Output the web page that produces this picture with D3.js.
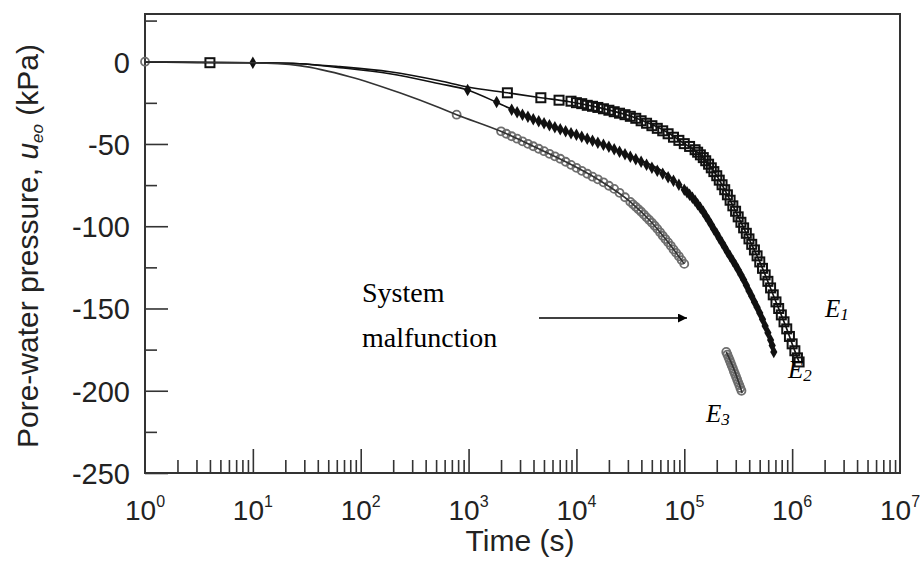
<!DOCTYPE html>
<html lang="en">
<head>
<meta charset="UTF-8">
<title>Pore-water pressure vs time</title>
<script src="https://cdn.jsdelivr.net/npm/d3@7"></script>
<style>
  html, body { margin: 0; padding: 0; background: #fff; }
  svg { display: block; }
  .axis text { font-family: 'Liberation Sans', Arial, sans-serif; fill: #222; }
  .axis line { stroke: #333; stroke-width: 1.6; }
  .axis path { display: none; }
  .note { font-family: 'Liberation Serif', 'Times New Roman', serif; fill: #000; }
</style>
</head>
<body>
<script>
  // tick values
  const yMajorTicks = [-250, -200, -150, -100, -50, 0];
  const yMinorTicks = [-225, -175, -125, -75, -25, 25];
  const xExponents = [0, 1, 2, 3, 4, 5, 6, 7];
  const minorMantissas = [2, 3, 4, 5, 6, 7, 8, 9];

  // [time (s), pore-water pressure (kPa)]
  const e1Line = [[1, 0], [4, -0.6], [10, -0.6], [27, -1.2], [64, -3], [186, -6.1], [539, -11.6], [958, -15.2],
    [2290, -18.9], [4680, -21.9], [8620, -24.3], [16300, -27.9], [33000, -33.5], [68100, -42.6],
    [100000, -49.8], [141000, -56.6], [200000, -69.3], [251000, -80.9], [355000, -101], [501000, -121.7],
    [708000, -146], [891000, -162.4], [1000000, -171.5], [1160000, -182.5]];
  const e1Marks = [[4, -0.6], [2290, -18.9], [4680, -21.9], [6900, -23.4], [8910, -24.0],
    [10000, -24.9], [11200, -25.5], [12600, -26.5], [14100, -27.1], [15800, -27.8], [17800, -28.6],
    [20000, -29.5], [22400, -30.4], [25100, -31.3], [28200, -32.2], [31600, -33.2], [35500, -34.4],
    [39800, -35.9], [44700, -37.4], [50100, -38.9], [56200, -40.5], [63100, -42.0], [70800, -43.8],
    [79400, -45.9], [89100, -47.8], [100000, -49.8], [112000, -51.5], [126000, -53.5], [141000, -56.6],
    [158000, -60.2], [178000, -64.5], [200000, -69.3], [224000, -74.8], [251000, -80.9], [282000, -87.6],
    [316000, -94.3], [355000, -101], [398000, -107.7], [447000, -114.4], [501000, -121.7], [562000, -129.6],
    [631000, -137.5], [708000, -146], [794000, -153.9], [891000, -162.4], [1000000, -171.5],
    [1120000, -180], [1160000, -182.5],
    [133000, -55.0], [150000, -58.3], [168000, -62.3], [188000, -66.8], [211000, -72.0], [237000, -77.8],
    [266000, -84.2], [299000, -90.9], [335000, -97.6], [376000, -104.3], [422000, -111.0], [473000, -118.0],
    [531000, -125.6], [596000, -133.5], [668000, -141.7], [750000, -150.0], [841000, -158.1],
    [944000, -167.0], [1060000, -175.7]];

  const e2Line = [[1, 0], [10, -0.6], [27, -1.2], [64, -3.6], [186, -7.3], [539, -13.4], [958, -17],
    [1940, -25.5], [3920, -34.7], [8080, -42.6], [16300, -49.3], [33000, -57.8], [68100, -68.1],
    [100000, -77.9], [141000, -88.8], [200000, -104.6], [282000, -121], [355000, -132.6],
    [447000, -146], [562000, -160.6], [676000, -176.4]];
  const e2Marks = [[10, -0.6], [980, -17.2], [1820, -24.5], [2510, -29.2], [2820, -30.7], [3160, -32.2],
    [3550, -33.5], [3980, -35.0], [4470, -36.2], [5010, -37.4], [5620, -38.6], [6310, -39.8], [7080, -41.1],
    [7940, -42.3], [8910, -43.5], [10000, -44.4], [11200, -45.6], [12600, -46.8], [14100, -48.1],
    [15800, -49.3], [17800, -50.5], [20000, -51.7], [22400, -53.2], [25100, -54.7], [28200, -56.3],
    [31600, -57.8], [35500, -59.3], [39800, -60.8], [44700, -62.7], [50100, -64.5], [56200, -66.3],
    [63100, -68.1], [70800, -70.3], [79400, -72.4], [89100, -74.8], [100000, -77.9], [112000, -80.9],
    [126000, -84.5], [141000, -88.8], [158000, -93.7], [178000, -99.1], [200000, -104.6], [224000, -110.1],
    [251000, -115.6], [282000, -121], [316000, -126.5], [355000, -132.6], [398000, -139.3], [447000, -146],
    [501000, -152.7], [562000, -160.6], [631000, -169.1], [676000, -176.4],
    [106000, -79.4], [119000, -82.7], [133000, -86.6], [150000, -91.2], [168000, -96.4], [188000, -101.8],
    [211000, -107.3], [237000, -112.8], [266000, -118.3], [299000, -123.7], [335000, -129.5],
    [376000, -135.9], [422000, -142.6], [473000, -149.3], [531000, -156.6], [596000, -164.8],
    [653000, -172.5]];

  const e3Line = [[1, 0], [10, -0.6], [27, -2.4], [79, -9.1], [230, -18.9], [539, -28], [775, -32.2],
    [1940, -42.0], [3980, -51.4], [7940, -60.8], [15800, -71.5], [31600, -85.2], [50100, -97.9],
    [70800, -109.8], [100000, -122.9]];
  const e3Marks = [[1, 0], [775, -32.2], [2000, -42.3], [2240, -43.8], [2510, -45.3], [2820, -46.8],
    [3160, -48.4], [3550, -49.9], [3980, -51.4], [4470, -52.9], [5010, -54.4], [5620, -56.0], [6310, -57.5],
    [7080, -59.0], [7940, -60.8], [8910, -62.7], [10000, -64.5], [11200, -66.3], [12600, -68.1],
    [14100, -69.9], [15800, -71.5], [17800, -73.3], [20000, -75.4], [22400, -77.3], [25100, -79.7],
    [28200, -82.4], [31600, -85.2], [35500, -88.2], [39800, -91.2], [44700, -94.6], [50100, -97.9],
    [56200, -101.6], [63100, -105.8], [70800, -109.8], [79400, -114.1], [89100, -118.3], [100000, -122.9],
    [33500, -86.7], [37600, -89.7], [42200, -92.9], [47300, -96.2], [53100, -99.7], [59600, -103.7],
    [66800, -107.8], [75000, -111.9], [84100, -116.2], [94400, -120.6]];
  // second E3 segment after the system malfunction
  const e3bLine = [[245000, -176.4], [295000, -188.5], [344000, -201.3]];
  const e3bMarks = [[245000, -176.4], [251000, -178.0], [257000, -179.7], [263000, -181.3], [269000, -183.0],
    [275000, -184.7], [282000, -186.4], [288000, -188.1], [295000, -189.8], [302000, -191.5],
    [309000, -193.2], [316000, -194.9], [324000, -196.6], [331000, -198.3], [339000, -200.0]];

  const width = 922, height = 561;
  const plot = { left: 145, right: 900, top: 14, bottom: 473 };

  const svg = d3.select("body").append("svg")
    .attr("width", width)
    .attr("height", height);

  const x = d3.scaleLog().domain([1, 1e7]).range([plot.left, plot.right]);
  const y = d3.scaleLinear().domain([-250, 29]).range([plot.bottom, plot.top]);

  // y axis, ticks pointing inward
  svg.append("g")
    .attr("class", "axis")
    .attr("transform", `translate(${plot.left},0)`)
    .call(d3.axisLeft(y).tickValues(yMajorTicks).tickSize(-23).tickPadding(15).tickFormat(d => String(d)))
    .call(g => g.selectAll("text").attr("font-size", 29).attr("dy", "0.36em"));

  svg.append("g")
    .attr("class", "axis")
    .attr("transform", `translate(${plot.left},0)`)
    .call(d3.axisLeft(y).tickValues(yMinorTicks).tickSize(-12).tickFormat(""));

  // x axis
  const xMajor = xExponents.map(e => Math.pow(10, e));
  const xMinor = [];
  xExponents.slice(0, -1).forEach(e => minorMantissas.forEach(m => xMinor.push(m * Math.pow(10, e))));

  svg.append("g")
    .attr("class", "axis")
    .attr("transform", `translate(0,${plot.bottom})`)
    .call(d3.axisBottom(x).tickValues(xMajor.slice(1, -1)).tickSize(-24).tickFormat(""));

  svg.append("g")
    .attr("class", "axis")
    .attr("transform", `translate(0,${plot.bottom})`)
    .call(d3.axisBottom(x).tickValues(xMinor).tickSize(-13).tickFormat(""));

  const xLabels = svg.append("g")
    .attr("class", "axis")
    .selectAll("text")
    .data(xExponents)
    .enter()
    .append("text")
    .attr("x", d => x(Math.pow(10, d)))
    .attr("y", 520)
    .attr("text-anchor", "middle")
    .attr("font-size", 28);
  xLabels.append("tspan").text("10");
  xLabels.append("tspan").attr("font-size", 16).attr("dy", -13).text(d => d);

  // frame
  svg.append("rect")
    .attr("x", plot.left)
    .attr("y", plot.top)
    .attr("width", plot.right - plot.left)
    .attr("height", plot.bottom - plot.top)
    .attr("fill", "none")
    .attr("stroke", "#333")
    .attr("stroke-width", 2);

  // axis titles
  svg.append("text")
    .attr("x", 520)
    .attr("y", 551)
    .attr("text-anchor", "middle")
    .attr("font-family", "'Liberation Sans', Arial, sans-serif")
    .attr("font-size", 30)
    .attr("fill", "#222")
    .text("Time (s)");

  const yTitle = svg.append("text")
    .attr("transform", "translate(38,246) rotate(-90)")
    .attr("text-anchor", "middle")
    .attr("font-family", "'Liberation Sans', Arial, sans-serif")
    .attr("font-size", 30)
    .attr("fill", "#222");
  yTitle.append("tspan").text("Pore-water pressure, ");
  yTitle.append("tspan").attr("font-style", "italic").text("u");
  yTitle.append("tspan").attr("font-style", "italic").attr("font-size", 17).attr("dy", 5).text("eo");
  yTitle.append("tspan").attr("dy", -5).text(" (kPa)");

  // curves
  const line = d3.line()
    .x(d => x(d[0]))
    .y(d => y(d[1]))
    .curve(d3.curveMonotoneX);

  const marks = svg.append("g");

  marks.selectAll("circle.e3")
    .data(e3Marks.concat(e3bMarks))
    .enter()
    .append("circle")
    .attr("class", "e3")
    .attr("cx", d => x(d[0]))
    .attr("cy", d => y(d[1]))
    .attr("r", 4)
    .attr("fill", "none")
    .attr("stroke", "#6e6e6e")
    .attr("stroke-width", 1.8);

  marks.selectAll("rect.e1")
    .data(e1Marks)
    .enter()
    .append("rect")
    .attr("class", "e1")
    .attr("x", d => x(d[0]) - 4.5)
    .attr("y", d => y(d[1]) - 4.5)
    .attr("width", 9)
    .attr("height", 9)
    .attr("fill", "none")
    .attr("stroke", "#111")
    .attr("stroke-width", 2);

  marks.selectAll("path.e2")
    .data(e2Marks)
    .enter()
    .append("path")
    .attr("class", "e2")
    .attr("d", d3.symbol().type(d3.symbolDiamond).size(45))
    .attr("transform", d => `translate(${x(d[0])},${y(d[1])})`)
    .attr("fill", "#111");

  [e1Line, e2Line, e3Line, e3bLine].forEach((series, i) => {
    svg.append("path")
      .datum(series)
      .attr("d", line)
      .attr("fill", "none")
      .attr("stroke", i >= 2 ? "#333" : "#111")
      .attr("stroke-width", 1.6);
  });

  // annotation
  const note = svg.append("text")
    .attr("class", "note")
    .attr("font-size", 28);
  note.append("tspan").attr("x", 362).attr("y", 302).text("System");
  note.append("tspan").attr("x", 362).attr("y", 347).text("malfunction");

  svg.append("defs").append("marker")
    .attr("id", "arrow")
    .attr("viewBox", "0 0 10 10")
    .attr("refX", 10)
    .attr("refY", 5)
    .attr("markerWidth", 14)
    .attr("markerHeight", 9)
    .attr("markerUnits", "userSpaceOnUse")
    .attr("orient", "auto")
    .append("path")
    .attr("d", "M0,0L10,5L0,10Z")
    .attr("fill", "#000");

  svg.append("line")
    .attr("x1", 539).attr("y1", 318)
    .attr("x2", 687).attr("y2", 318)
    .attr("stroke", "#000")
    .attr("stroke-width", 1.5)
    .attr("marker-end", "url(#arrow)");

  const seriesLabels = [
    { name: "E", sub: "1", x: 825, y: 317 },
    { name: "E", sub: "2", x: 788, y: 378 },
    { name: "E", sub: "3", x: 706, y: 422 }
  ];
  const lab = svg.selectAll("text.series")
    .data(seriesLabels)
    .enter()
    .append("text")
    .attr("class", "note series")
    .attr("x", d => d.x)
    .attr("y", d => d.y)
    .attr("font-size", 25)
    .attr("font-style", "italic");
  lab.append("tspan").text(d => d.name);
  lab.append("tspan").attr("font-size", 17).attr("dy", 3).text(d => d.sub);
</script>
</body>
</html>
